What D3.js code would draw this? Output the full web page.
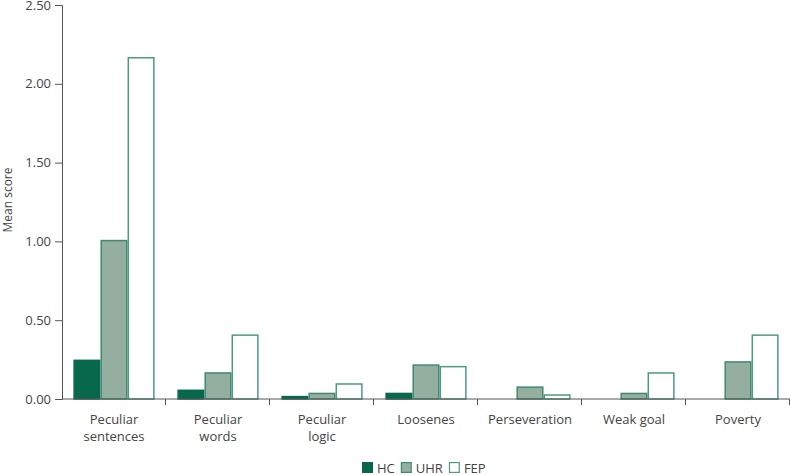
<!DOCTYPE html>
<html><head><meta charset="utf-8">
<script src="https://cdn.jsdelivr.net/npm/d3@7"></script>
<style>body{margin:0;background:#fff}svg{display:block}text{font-family:"Open Sans",sans-serif}</style>
</head><body><svg id="c" width="790" height="475"></svg>
<script>
const categories = [["Peculiar","sentences"],["Peculiar","words"],["Peculiar","logic"],["Loosenes"],["Perseveration"],["Weak goal"],["Poverty"]];
const seriesNames = ["HC","UHR","FEP"];
const hcValues  = [0.25, 0.06, 0.02, 0.04, 0.00, 0.00, 0.00];
const uhrValues = [1.01, 0.17, 0.04, 0.22, 0.08, 0.04, 0.24];
const fepValues = [2.17, 0.41, 0.10, 0.21, 0.03, 0.17, 0.41];
const yTicks = [0, 0.5, 1, 1.5, 2, 2.5];

const fills = {HC:"#07684c", UHR:"#94ae9f", FEP:"#ffffff"};
const strokes = {HC:"#07684c", UHR:"#3f8a70", FEP:"#4c9a80"};
const values = {HC:hcValues, UHR:uhrValues, FEP:fepValues};
const keys = categories.map(c=>c.join(" "));

const svg = d3.select("#c");
const m = {l:62, t:5, r:790, b:399};
const x0 = d3.scaleBand().domain(keys).range([m.l, m.r]).padding(0);
const x1 = d3.scaleBand().domain(seriesNames).range([0, x0.bandwidth()]).paddingInner(0).paddingOuter(0.42);
const y = d3.scaleLinear().domain([0, 2.5]).range([m.b, m.t]);
const axisCol = "#555";
const textCol = "#444";

// bars
seriesNames.forEach(s=>{
  svg.append("g").selectAll("rect").data(keys.map((k,i)=>({k, v:values[s][i]}))).join("rect")
    .attr("x", d=>x0(d.k)+x1(s)+0.75)
    .attr("y", d=>y(d.v)+0.75)
    .attr("width", x1.bandwidth()-1.5)
    .attr("height", d=>Math.max(0, y(0)-y(d.v)-0.75))
    .attr("fill", fills[s])
    .attr("stroke", strokes[s])
    .attr("stroke-width", d=>d.v>0?1.5:0);
});

// y axis
const ya = svg.append("g").attr("transform",`translate(${m.l},0)`)
  .call(d3.axisLeft(y).tickValues(yTicks).tickFormat(d3.format(".2f")).tickSize(7).tickPadding(4));
ya.select(".domain").attr("stroke", axisCol);
ya.selectAll(".tick line").attr("stroke", axisCol);
ya.selectAll(".tick text").attr("fill", textCol).style("font-size","13px").style("font-family","Open Sans");

// x axis
const xa = svg.append("g").attr("transform",`translate(0,${m.b})`);
xa.append("line").attr("x1",m.l).attr("x2",m.r).attr("stroke",axisCol);
const bounds = keys.map(k=>x0(k)).concat([x0.range()[1]]);
xa.selectAll("line.t").data(bounds.slice(1)).join("line").attr("class","t")
  .attr("x1",d=>d-0.5).attr("x2",d=>d-0.5).attr("y1",0).attr("y2",6).attr("stroke",axisCol);
xa.selectAll("text").data(categories).join("text")
  .attr("x",(d,i)=>x0(keys[i])+x0.bandwidth()/2)
  .attr("text-anchor","middle").attr("fill",textCol).style("font-size","13px")
  .each(function(d){
    d3.select(this).selectAll("tspan").data(d).join("tspan")
      .attr("x", d3.select(this).attr("x")).attr("y",(t,j)=>25+j*17).text(t=>t);
  });

// y label
svg.append("text").attr("transform","translate(12,200) rotate(-90)")
  .attr("text-anchor","middle").attr("fill",textCol).style("font-size","12px").text("Mean score");

// legend
const lg = svg.append("g").attr("transform","translate(362,462)");
let cx = 0;
seriesNames.forEach((s,i)=>{
  const g = lg.append("g").attr("transform",`translate(${cx},0)`);
  g.append("rect").attr("x",0.6).attr("y",0.6).attr("width",9.8).attr("height",9.8)
    .attr("fill",fills[s]).attr("stroke",strokes[s]).attr("stroke-width",1.2);
  const t = g.append("text").attr("x",15).attr("y",10.5).attr("fill",textCol).style("font-size","13px").text(s);
  cx += 15 + t.node().getComputedTextLength() + 6;
});
</script></body></html>
